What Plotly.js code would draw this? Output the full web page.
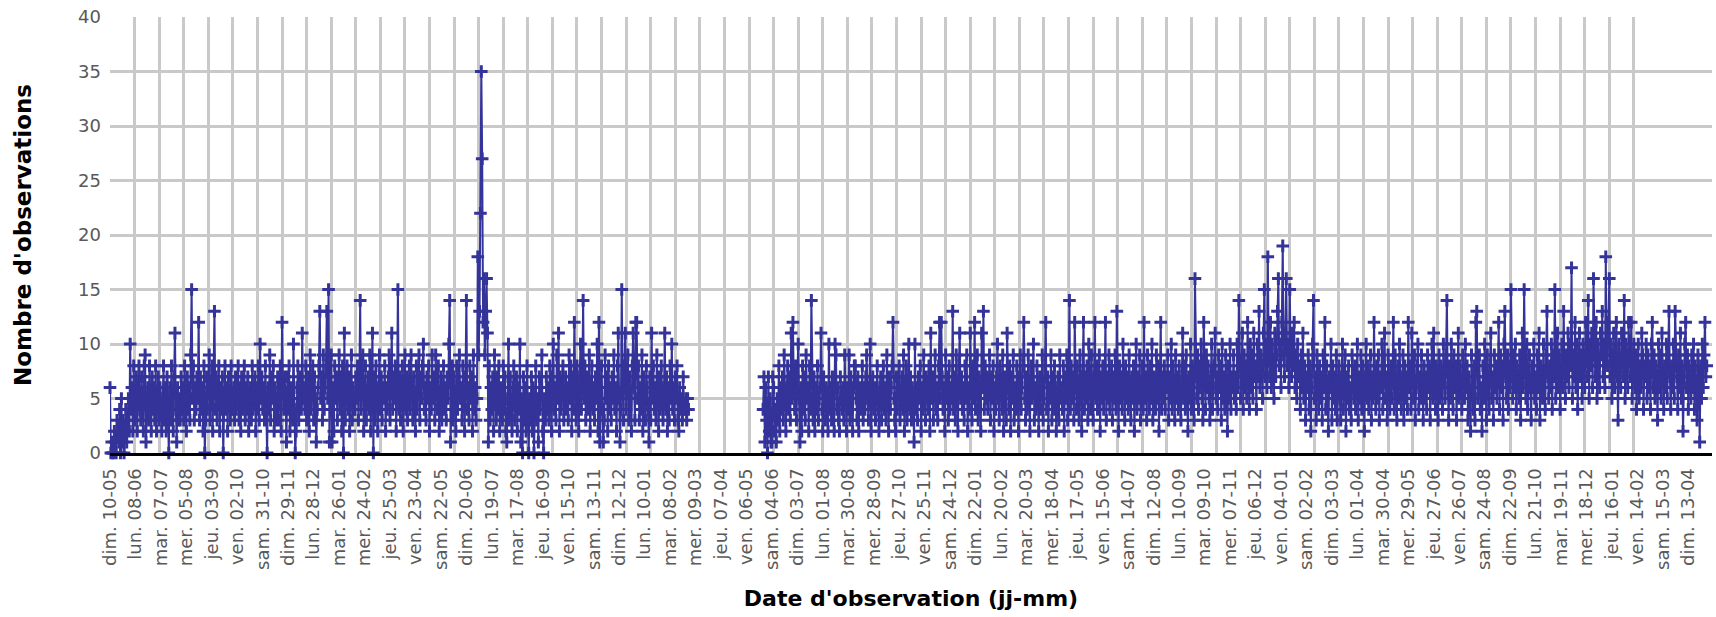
<!DOCTYPE html>
<html>
<head>
<meta charset="utf-8">
<script src="https://cdn.plot.ly/plotly-3.0.1.min.js"></script>
<style>
html,body{margin:0;padding:0;background:#fff;}
#chart{width:1716px;height:617px;}
</style>
</head>
<body>
<div id="chart"></div>
<script>
// Daily observation counts, first block (day index 0 = dim. 10-05)
const startA = 0;
const obsA1 = [
6,0,1,0,0,2,1,0,3,2,1,4,0,5,1,3,0,2,4,1,
3,5,2,10,4,6,2,8,3,5,7,2,6,8,4,3,7,5,2,8,
9,1,4,6,3,8,5,2,7,4,6,3,8,2,5,7,3,6,4,2,
5,8,3,6,2,7,4,0,6,3,8,5,2,7,11,4,1,6,3,5,
3,7,4,6,3,8,5,2,7,4,6,3,9,15,5,8,3,6,4,7,
5,12,3,7,4,6,2,8,0,3,7,4,6,9,3,5,8,2,6,13,
4,7,3,5,8,2,6,4,7,0,5,8,4,6,2,7,5,3,8,4,
4,6,3,7,4,5,8,3,6,2,7,4,5,8,3,6,4,7,2,5,
6,3,8,4,5,7,2,6,4,8,3,10,5,7,4,6,3,8,5,0,
6,4,9,3,7,5,8,2,6,3,4,7,3,5,8,2,12,6,4,7
];
const obsA2 = [
5,1,7,4,8,2,6,5,3,10,4,0,2,6,8,3,5,7,4,11,
5,6,4,8,3,7,5,2,9,4,6,8,3,7,5,1,4,6,8,13,
5,7,3,9,4,6,8,13,5,15,1,7,9,1,6,2,8,5,7,3,
6,9,4,7,2,8,0,11,3,6,8,4,7,2,5,9,3,6,4,4,
7,5,8,3,6,14,4,7,9,2,6,8,3,5,7,4,9,2,6,11,
0,7,3,8,5,2,6,9,4,7,3,6,5,8,2,6,4,7,9,3,
6,11,4,7,5,8,2,6,15,4,7,3,5,8,2,6,9,4,7,3,
5,8,4,9,6,3,7,5,2,8,4,6,9,3,7,5,8,10,4,6,
3,7,5,8,2,6,4,9,5,7,3,9,6,4,8,2,5,7,3,6,
8,4,6,3,7,5,10,14,1,6,8,3,7,5,2,8,4,6,9,5
];
const obsA3 = [
6,3,8,5,2,7,14,4,6,3,8,5,7,2,9,4,6,3,5,18,
9,13,22,35,27,12,16,9,13,16,11,1,8,3,6,4,7,2,9,5,
3,7,4,8,2,6,5,3,8,4,7,2,1,5,10,3,7,4,2,6,
8,3,5,7,2,6,4,10,1,5,0,7,3,6,2,8,4,0,5,3,
7,2,6,0,4,8,3,5,1,7,4,6,9,2,0,5,3,7,4,6,
3,8,5,2,7,10,4,6,3,9,5,11,2,7,4,6,8,3,5,7,
4,6,3,9,5,8,2,7,4,12,6,3,8,5,2,7,10,4,6,14,
5,8,3,7,4,6,9,2,5,8,4,6,3,7,5,10,2,12,1,6,
8,4,1,3,9,5,7,2,8,4,6,3,7,5,9,4,6,2,8,11,
5,1,4,15,6,3,8,11,4,6,9,3,7,5,2,8,11,6,3,12
];
const obsA4 = [
12,5,8,3,6,4,9,2,7,5,3,8,6,4,1,7,3,11,5,8,
4,6,3,9,5,2,7,4,8,6,3,5,11,4,7,2,6,3,8,5,
10,4,6,3,7,5,8,3,2,6,4,5,3,7,4,4,5,3,5,4
];
// Second block, after the period without data
const startB = 744;
const obsB1 = [
4,7,1,6,3,0,7,2,5,1,1,7,6,2,4,1,
5,3,8,2,6,4,7,3,9,5,2,6,8,4,7,3,11,5,12,6,
4,8,3,7,10,5,1,6,2,8,4,7,3,9,5,6,2,8,4,14
];
const obsB2 = [
5,3,7,2,6,4,8,3,5,6,11,4,2,7,5,3,6,4,2,10,
4,6,3,7,5,2,10,9,4,6,3,2,7,5,4,6,3,9,5,2,
6,4,9,3,7,5,2,6,8,8,5,3,7,2,6,4,5,8,3,6,
4,7,9,5,3,6,10,2,5,7,4,6,3,5,8,4,2,6,7,3,
5,8,4,6,3,9,5,2,7,4,6,8,12,5,3,2,7,4,6,8,
3,5,7,4,9,2,6,8,3,5,10,4,7,3,6,5,1,10,4,6,
3,7,5,8,2,6,4,9,5,3,7,6,4,8,2,11,5,7,3,6,
9,4,6,3,8,12,5,12,7,4,6,2,9,5,7,3,8,4,6,5,
13,4,7,3,9,6,2,8,11,5,7,4,6,3,8,5,9,2,6,4,
11,7,3,8,5,12,4,6,9,3,7,5,2,11,6,13,4,8,5,7
];
const obsB3 = [
4,6,9,3,7,5,8,2,6,4,7,10,5,3,8,6,4,9,2,7,
5,3,11,6,4,8,2,7,5,9,3,6,4,8,5,2,7,9,4,6,
8,12,5,3,7,4,9,6,2,8,5,7,10,3,6,4,8,5,2,7,
4,6,9,3,5,8,12,4,7,2,6,5,9,3,7,4,8,6,2,5,
7,3,9,5,6,4,8,2,7,5,9,3,6,14,4,8,5,7,3,12,
6,4,8,5,3,9,7,2,6,12,4,7,5,8,3,10,6,4,9,5,
3,7,12,5,8,4,6,9,2,7,5,8,4,6,12,3,7,5,9,4,
6,8,3,7,5,9,4,13,6,2,8,5,7,4,10,6,3,8,5,7,
4,9,6,3,7,5,8,2,6,10,4,7,5,9,3,6,8,4,12,5,
7,3,9,6,4,8,5,10,3,7,6,4,9,5,8,2,6,12,4,7
];
const obsB4 = [
5,8,4,7,6,9,3,7,5,10,4,8,6,3,9,5,7,4,8,6,
3,7,11,5,8,4,9,6,2,7,5,10,4,8,6,3,16,7,5,9,
4,8,6,10,5,3,12,7,4,9,6,8,5,3,7,10,4,6,8,11,
5,7,4,9,6,8,3,10,5,7,4,9,6,2,8,5,10,4,7,6,
9,5,7,4,10,6,14,8,5,7,11,4,9,6,8,5,12,7,4,10,
6,9,5,11,7,8,4,10,7,13,6,9,8,5,11,15,7,10,6,18,
9,7,12,6,10,8,5,11,7,9,13,16,8,10,6,12,19,9,7,11,
16,8,10,6,15,9,7,11,8,12,6,9,5,10,7,8,4,9,6,11,
5,8,3,7,6,9,4,8,2,6,10,14,5,7,3,9,6,4,8,5,
7,3,9,6,12,4,8,5,2,7,6,10,3,8,5,7,4,9,3,6
];
const obsB5 = [
8,5,3,7,10,4,6,9,2,7,5,8,4,6,3,9,7,5,8,4,
6,10,3,7,5,9,4,8,6,2,7,10,5,8,4,6,9,3,7,5,
12,6,4,8,5,9,3,7,6,10,4,8,11,5,7,3,9,6,4,8,
5,7,12,4,9,6,3,8,5,10,7,4,6,9,3,8,5,7,4,12,
6,8,4,11,7,5,9,3,6,8,10,4,7,5,9,6,3,8,5,7,
4,9,6,8,3,7,10,5,11,6,4,8,7,3,9,5,8,6,4,10,
7,5,9,14,6,3,8,5,10,7,4,9,6,8,3,7,11,5,8,6,
4,9,7,5,10,6,8,3,7,5,2,9,6,4,8,3,12,13,5,7,
9,4,6,2,8,5,10,7,3,9,6,4,8,11,5,7,3,9,6,8,
5,7,12,4,9,6,8,3,10,13,7,5,9,4,8,6,15,7,5,9
];
const obsB6 = [
6,10,4,8,7,5,9,3,7,11,6,15,8,5,10,4,7,9,6,3,
8,6,10,5,7,4,9,6,11,3,8,7,5,10,6,4,9,13,7,5,
8,6,10,4,9,7,15,5,8,11,6,9,4,7,10,6,13,8,5,9,
7,11,6,10,8,17,5,9,7,12,6,10,4,8,11,7,9,5,10,8,
6,12,9,7,14,5,10,8,11,6,16,9,7,12,5,10,8,6,11,9,
13,7,10,6,18,9,8,12,16,7,10,5,9,11,6,8,12,7,3,10,
8,6,11,9,7,14,5,10,8,6,12,9,7,12,5,8,10,6,9,4,
7,10,5,8,6,11,9,4,8,7,10,5,9,6,8,4,10,12,6,9,
5,8,7,3,10,6,9,5,11,7,4,8,6,10,5,9,13,7,4,8,
6,10,5,13,8,7,4,9,6,11,5,8,2,7,10,12,6,9,4,8
];
const obsB7 = [
7,5,9,6,10,4,8,6,3,9,7,1,8,5,10,6,9,12,7,8
];

// Axis labels (one every 29 days) and grid step
const tickLabels = [
"dim. 10-05","lun. 08-06","mar. 07-07","mer. 05-08","jeu. 03-09","ven. 02-10","sam. 31-10",
"dim. 29-11","lun. 28-12","mar. 26-01","mer. 24-02","jeu. 25-03","ven. 23-04","sam. 22-05",
"dim. 20-06","lun. 19-07","mar. 17-08","jeu. 16-09","ven. 15-10","sam. 13-11","dim. 12-12",
"lun. 10-01","mar. 08-02","mer. 09-03","jeu. 07-04","ven. 06-05","sam. 04-06","dim. 03-07",
"lun. 01-08","mar. 30-08","mer. 28-09","jeu. 27-10","ven. 25-11","sam. 24-12","dim. 22-01",
"lun. 20-02","mar. 20-03","mer. 18-04","jeu. 17-05","ven. 15-06","sam. 14-07","dim. 12-08",
"lun. 10-09","mar. 09-10","mer. 07-11","jeu. 06-12","ven. 04-01","sam. 02-02","dim. 03-03",
"lun. 01-04","mar. 30-04","mer. 29-05","jeu. 27-06","ven. 26-07","sam. 24-08","dim. 22-09",
"lun. 21-10","mar. 19-11","mer. 18-12","jeu. 16-01","ven. 14-02","sam. 15-03","dim. 13-04"
];
const labelStep = 29;
const gridStep = 28;
const gridCount = 63;
const totalDays = 1825;

// Build the series
const blockA = [].concat(obsA1, obsA2, obsA3, obsA4);
const blockB = [].concat(obsB1, obsB2, obsB3, obsB4, obsB5, obsB6, obsB7);
const xs = [], ys = [];
blockA.forEach((v, i) => { xs.push(startA + i); ys.push(v); });
xs.push(startA + blockA.length); ys.push(null);
blockB.forEach((v, i) => { xs.push(startB + i); ys.push(v); });

const tickVals = tickLabels.map((_, k) => k * labelStep);
const gridVals = [];
for (let g = 0; g < gridCount; g++) gridVals.push(g * gridStep);

const trace = {
  type: 'scatter',
  mode: 'lines+markers',
  x: xs, y: ys,
  connectgaps: false,
  cliponaxis: false,
  hoverinfo: 'skip',
  line: {color: '#333399', width: 2},
  marker: {symbol: 'cross-thin-open', size: 9, color: '#333399', line: {width: 3, color: '#333399'}}
};

const layout = {
  width: 1716, height: 617,
  margin: {l: 110, r: 4, t: 17, b: 164},
  paper_bgcolor: '#ffffff', plot_bgcolor: '#ffffff',
  showlegend: false,
  font: {family: 'DejaVu Sans', color: '#595959'},
  xaxis: {
    range: [0, totalDays],
    tickmode: 'array', tickvals: tickVals, ticktext: tickLabels,
    tickangle: -90,
    tickfont: {size: 18, color: '#595959', family: 'DejaVu Sans'},
    ticks: '', ticklabelstandoff: 5,
    showgrid: false, zeroline: false,
    showline: true, linecolor: '#000000', linewidth: 3,
    minor: {tickmode: 'array', tickvals: gridVals, showgrid: true, gridcolor: '#c9c9c9', gridwidth: 3, ticks: ''},
    automargin: false,
    title: {text: "Date d'observation (jj-mm)", standoff: 22,
            font: {size: 22, color: '#000000', family: 'DejaVu Sans', weight: 700}}
  },
  yaxis: {
    range: [0, 40], tick0: 0, dtick: 5,
    tickfont: {size: 18, color: '#595959', family: 'DejaVu Sans'},
    ticks: '', ticklabelstandoff: 8,
    showgrid: true, gridcolor: '#c9c9c9', gridwidth: 3,
    zeroline: false, showline: false,
    automargin: false,
    title: {text: "Nombre d'observations", standoff: 40,
            font: {size: 23, color: '#000000', family: 'DejaVu Sans', weight: 700}}
  }
};

Plotly.newPlot('chart', [trace], layout, {displayModeBar: false, staticPlot: true});
</script>
</body>
</html>
